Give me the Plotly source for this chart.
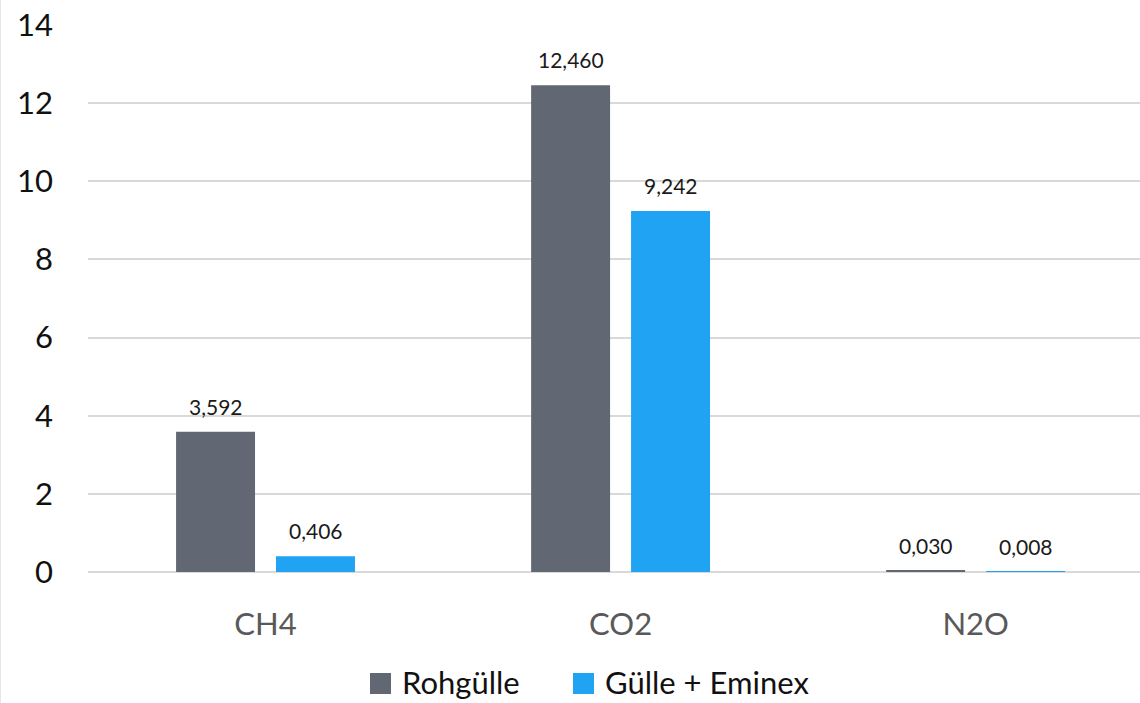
import plotly.graph_objects as go

categories = ["CH4", "CO2", "N2O"]
rohguelle = [3.592, 12.460, 0.030]
guelle_eminex = [0.406, 9.242, 0.008]
y_ticks = [0, 2, 4, 6, 8, 10, 12, 14]
series_names = ["Rohgülle", "Gülle + Eminex"]

GREY = "#626873"
BLUE = "#1FA3F2"
FONT = "Lato"

# plot area geometry (px)
L, R, T, B = 88, 0, 25, 131
W, H = 1140, 703
PW, PH = W - L - R, H - T - B


def fmt(v):
    return f"{v:.3f}".replace(".", ",")


def px_x(p):
    return (p - L) / PW


def px_y(p):
    return (H - B - p) / PH


fig = go.Figure()
fig.add_bar(x=categories, y=rohguelle, name=series_names[0], marker_color=GREY,
            marker_line_width=0, showlegend=False)
fig.add_bar(x=categories, y=guelle_eminex, name=series_names[1], marker_color=BLUE,
            marker_line_width=0, showlegend=False)

# value labels above each bar
annotations = []
for vals, shift in [(rohguelle, -50), (guelle_eminex, 50)]:
    for c, v in zip(categories, vals):
        annotations.append(dict(x=c, y=v, xref="x", yref="y", text=fmt(v),
                                showarrow=False, xshift=shift, yshift=11,
                                yanchor="bottom",
                                font=dict(family=FONT, size=21, color="#1a1a1a")))

# legend drawn as swatches + labels below the axis
shapes = [dict(type="line", xref="paper", yref="paper", x0=px_x(0), x1=px_x(0),
               y0=px_y(H), y1=px_y(0), line=dict(color="#e6e6e6", width=2))]
legend_x = [370, 573]
for name, col, lx in zip(series_names, [GREY, BLUE], legend_x):
    shapes.append(dict(type="rect", xref="paper", yref="paper",
                       x0=px_x(lx), x1=px_x(lx + 21), y0=px_y(694), y1=px_y(673),
                       fillcolor=col, line=dict(width=0)))
    annotations.append(dict(x=px_x(lx + 30), y=px_y(682), xref="paper", yref="paper",
                            text=name, showarrow=False, xanchor="left", yanchor="middle",
                            font=dict(family=FONT, size=31, color="#111111")))

fig.update_layout(
    width=W, height=H,
    margin=dict(l=L, r=R, t=T, b=B),
    paper_bgcolor="white", plot_bgcolor="white",
    barmode="group", bargap=0.437, bargroupgap=0.21,
    font=dict(family=FONT),
    annotations=annotations,
    shapes=shapes,
    showlegend=False,
    xaxis=dict(range=[-0.5, 2.463], showgrid=False, zeroline=False, showline=False,
               ticks="", tickfont=dict(family=FONT, size=31, color="#595959"),
               ticklabelstandoff=31, fixedrange=True),
    yaxis=dict(range=[0, 14], tickvals=y_ticks, showgrid=True, gridcolor="#d9d9d9",
               gridwidth=2, zeroline=True, zerolinecolor="#d9d9d9", zerolinewidth=2,
               showline=False, ticks="",
               tickfont=dict(family=FONT, size=31, color="#111111"),
               ticklabelstandoff=34),
)

fig.write_html("out.html")
